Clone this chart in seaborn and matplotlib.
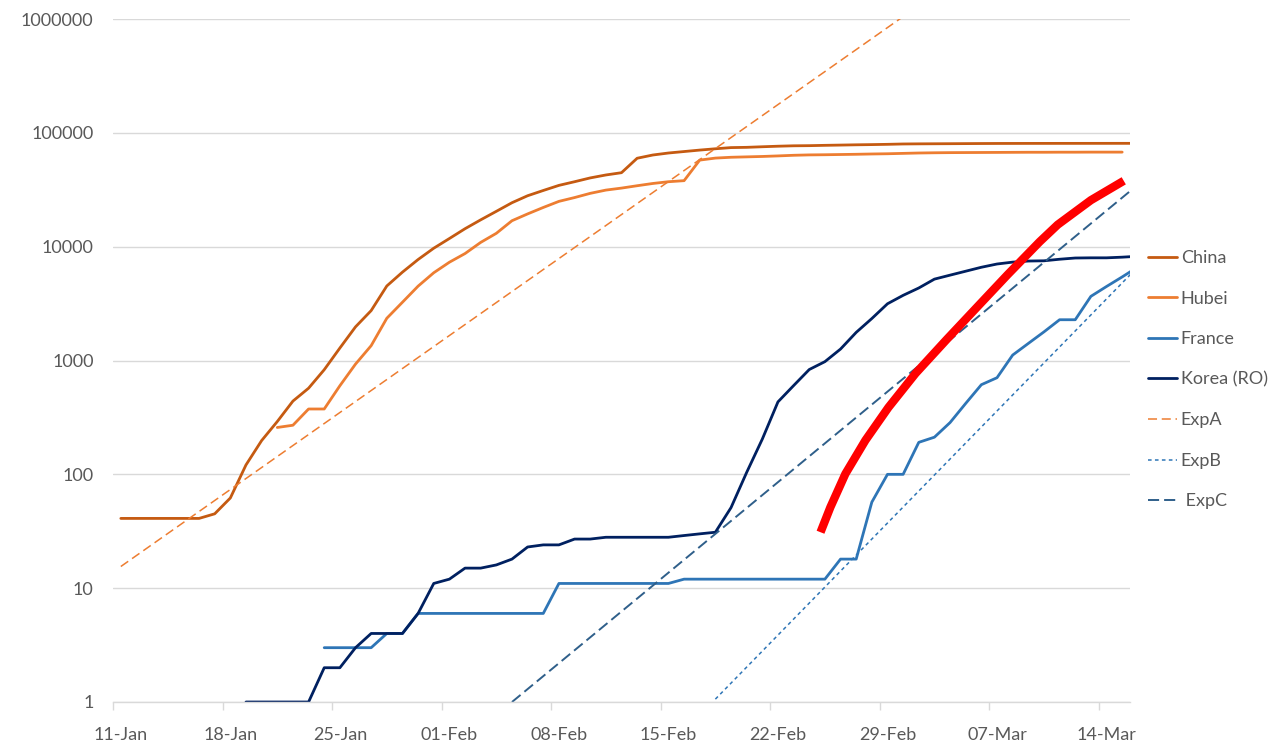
import numpy as np
import pandas as pd
import matplotlib
matplotlib.use("Agg")
import matplotlib.pyplot as plt
import seaborn as sns

# ---------------- data (day index 0 = 11-Jan) ----------------
tick_labels = ['11-Jan', '18-Jan', '25-Jan', '01-Feb', '08-Feb', '15-Feb',
               '22-Feb', '29-Feb', '07-Mar', '14-Mar']
tick_days = [0, 7, 14, 21, 28, 35, 42, 49, 56, 63]

china_start = 0
china = [41, 41, 41, 41, 41, 41, 45, 62, 121, 198, 291, 440, 571, 830, 1287,
         1975, 2744, 4515, 5974, 7711, 9692, 11791, 14380, 17205, 20438,
         24324, 28018, 31161, 34546, 37198, 40171, 42638, 44653, 59804,
         63851, 66492, 68500, 70548, 72436, 74185, 74576, 75465, 76288,
         76936, 77150, 77658, 78064, 78497, 78824, 79251, 79824, 80026,
         80151, 80270, 80409, 80552, 80651, 80695, 80735, 80754, 80778,
         80793, 80813, 80824, 80844, 80860]

hubei_start = 10
hubei = [258, 270, 375, 375, 600, 930, 1350, 2350, 3250, 4500, 5900, 7300,
         8700, 10900, 13100, 16900, 19400, 22100, 25000, 27000, 29400, 31400,
         32700, 34300, 35900, 37200, 38000, 57600, 60000, 61000, 61500,
         62000, 62700, 63500, 64000, 64200, 64500, 64800, 65200, 65500,
         66000, 66500, 66800, 67000, 67100, 67200, 67300, 67400, 67500,
         67500, 67600, 67600, 67700, 67700, 67700]

france_start = 13
france = [3, 3, 3, 3, 4, 4, 6, 6, 6, 6, 6, 6, 6, 6, 6, 11, 11, 11, 11, 11,
          11, 11, 11, 12, 12, 12, 12, 12, 12, 12, 12, 12, 12, 18, 18, 57,
          100, 100, 191, 212, 285, 420, 613, 706, 1116, 1412, 1784, 2281,
          2281, 3661, 4469, 5423, 6633]

korea_start = 8
korea = [1, 1, 1, 1, 1, 2, 2, 3, 4, 4, 4, 6, 11, 12, 15, 15, 16, 18, 23, 24,
         24, 27, 27, 28, 28, 28, 28, 28, 29, 30, 31, 51, 104, 204, 433, 602,
         833, 977, 1261, 1766, 2337, 3150, 3736, 4335, 5186, 5621, 6088,
         6593, 7041, 7314, 7478, 7513, 7755, 7950, 7979, 7979, 8086, 8236]

# reference exponentials (straight on the log axis): end points
expA_days = [0, 50]
expA_vals = [15.5, 1.05e6]
expB_days = [38, 65]
expB_vals = [1.06, 6640]
expC_days = [25, 65]
expC_vals = [1.0, 35000]

# red projection curve (points read along the thick red stroke)
red_days = [44.72, 45.35, 46.31, 47.59, 49.06, 50.79, 52.78, 54.76, 56.68,
            58.73, 59.88, 62.00, 64.10]
red_vals = [31, 51.4, 101, 199, 387, 769, 1528, 2978, 5680, 11060, 15600,
            25600, 37900]

series_names = ['China', 'Hubei', 'France', 'Korea (RO)', 'ExpA', 'ExpB', ' ExpC']

# ---------------- styling ----------------
sns.set_theme(style='white')
plt.rcParams['font.family'] = ['Lato', 'Liberation Sans', 'DejaVu Sans']
plt.rcParams['lines.scale_dashes'] = False
text_col = '#595959'
grid_col = '#D9D9D9'
fs = 13

W, H = 1273, 747
fig = plt.figure(figsize=(W / 100, H / 100), dpi=100)
fig.patch.set_facecolor('white')
ax = fig.add_axes([113 / W, 1 - 702 / H, (1130 - 113) / W, (702 - 19) / H])
ax.set_facecolor('white')
ax.set_yscale('log')


def frame(start, vals):
    return pd.DataFrame({'day': np.arange(start, start + len(vals)), 'v': vals})


specs = [
    (frame(china_start, china), '#C55A11', 2.0, None),
    (frame(hubei_start, hubei), '#ED7D31', 2.0, None),
    (frame(france_start, france), '#2E75B6', 2.0, None),
    (frame(korea_start, korea), '#002060', 2.0, None),
    (pd.DataFrame({'day': expA_days, 'v': expA_vals}), '#ED7D31', 1.1, (6.5, 3.4)),
    (pd.DataFrame({'day': expB_days, 'v': expB_vals}), '#2E75B6', 1.1, (2.6, 2.4)),
    (pd.DataFrame({'day': expC_days, 'v': expC_vals}), '#2F5F8A', 1.4, (8.0, 3.6)),
]

handles = []
for df, col, lw, dash in specs:
    sns.lineplot(data=df, x='day', y='v', ax=ax, color=col, linewidth=lw,
                 estimator=None, sort=False)
    line = ax.lines[-1]
    if dash is not None:
        line.set_dashes(dash)
    handles.append(line)

sns.lineplot(data=pd.DataFrame({'day': red_days, 'v': red_vals}), x='day', y='v',
             ax=ax, color='#FF0000', linewidth=6, estimator=None, sort=False)
ax.lines[-1].set_solid_capstyle('butt')
ax.lines[-1].set_solid_joinstyle('round')

# axes
ax.set_xlim(-0.5, 64.5)
ax.set_ylim(1, 1e6)
ax.set_xlabel('')
ax.set_ylabel('')
for s in ['top', 'right', 'left']:
    ax.spines[s].set_visible(False)
ax.spines['bottom'].set_color(grid_col)
ax.spines['bottom'].set_linewidth(1.0)

yt = [1, 10, 100, 1000, 10000, 100000, 1000000]
ax.set_yticks(yt)
ax.set_yticklabels([str(v) for v in yt])
ax.yaxis.set_minor_locator(matplotlib.ticker.NullLocator())
ax.tick_params(axis='y', which='major', length=0, pad=14, labelsize=fs,
               labelcolor=text_col)
ax.yaxis.grid(True, color=grid_col, linewidth=1.0)
ax.xaxis.grid(False)

ax.set_xticks(tick_days)
ax.set_xticklabels(tick_labels)
ax.set_xticks(np.arange(-0.5, 64, 7), minor=True)
ax.tick_params(axis='x', which='major', length=0, pad=18, labelsize=fs,
               labelcolor=text_col)
ax.tick_params(axis='x', which='minor', length=6, width=1.0, color=grid_col,
               direction='out', bottom=True)

leg = ax.get_legend()
if leg is not None:
    leg.remove()

fig.legend(handles, series_names, loc='upper left',
           bbox_to_anchor=(1147.5 / W, 1 - 250 / H), frameon=False,
           fontsize=fs, labelcolor=text_col, handlelength=1.66,
           handletextpad=0.18, labelspacing=1.36, borderpad=0,
           borderaxespad=0)

fig.savefig('out.png', dpi=100, facecolor='white')
